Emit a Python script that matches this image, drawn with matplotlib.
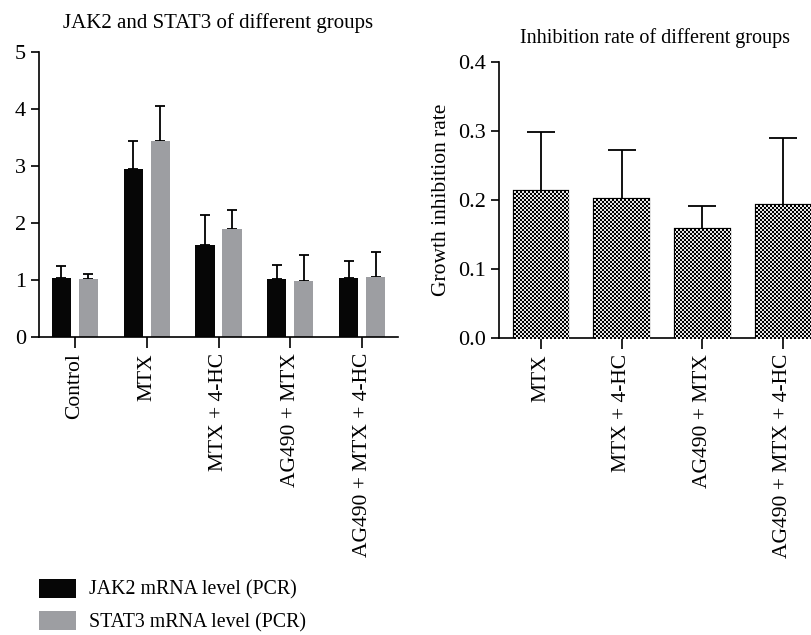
import numpy as np
import matplotlib
matplotlib.use('Agg')
from matplotlib import pyplot as plt
from matplotlib.patches import Patch

plt.rcParams['font.family'] = ['Liberation Serif', 'DejaVu Serif']

# left panel data
groups_left = ['Control', 'MTX', 'MTX + 4-HC', 'AG490 + MTX', 'AG490 + MTX + 4-HC']
jak2 = [1.03, 2.95, 1.61, 1.02, 1.04]
jak2_top = [1.25, 3.43, 2.14, 1.27, 1.34]
stat3 = [1.02, 3.43, 1.89, 0.99, 1.06]
stat3_top = [1.11, 4.06, 2.23, 1.43, 1.50]

# right panel data
groups_right = ['MTX', 'MTX + 4-HC', 'AG490 + MTX', 'AG490 + MTX + 4-HC']
inhib = [0.213, 0.201, 0.158, 0.193]
inhib_top = [0.299, 0.272, 0.192, 0.290]

W, H = 812, 635
fig = plt.figure(figsize=(W / 100, H / 100), dpi=100)

ax1 = fig.add_axes([39 / W, (H - 337) / H, (398 - 39) / W, (337 - 52) / H])
ax2 = fig.add_axes([499 / W, (H - 338) / H, (812 - 499) / W, (338 - 62) / H])

x = np.arange(len(groups_left))
off = 0.188
bw = 0.265
err_j = np.array(jak2_top) - np.array(jak2)
err_s = np.array(stat3_top) - np.array(stat3)
ax1.bar(x - off, jak2, bw, color='#060606', zorder=2)
ax1.bar(x + off, stat3, bw, color='#9d9ea2', zorder=2)
ax1.errorbar(x - off, jak2, yerr=[np.zeros(len(x)), err_j], fmt='none',
             ecolor='black', elinewidth=1.3, capsize=3.6, capthick=1.3, zorder=1)
ax1.errorbar(x + off, stat3, yerr=[np.zeros(len(x)), err_s], fmt='none',
             ecolor='black', elinewidth=1.3, capsize=3.6, capthick=1.3, zorder=1)
ax1.set_xlim(-0.5, 4.5)
ax1.set_ylim(0, 5)
ax1.set_yticks([0, 1, 2, 3, 4, 5])
ax1.set_xticks(x)
ax1.set_xticklabels(groups_left, rotation=90)
ax1.set_title('JAK2 and STAT3 of different groups', fontsize=15, pad=17)

xr = np.arange(len(groups_right))
err_r = np.array(inhib_top) - np.array(inhib)
bars = ax2.bar(xr, inhib, 0.68, color='white', edgecolor='black', linewidth=1.6, zorder=2)
ax2.errorbar(xr, inhib, yerr=[np.zeros(len(xr)), err_r], fmt='none',
             ecolor='black', elinewidth=1.3, capsize=10, capthick=1.3, zorder=1)
ax2.set_xlim(-0.52, 3.36)
ax2.set_ylim(0, 0.4)
ax2.set_yticks([0.0, 0.1, 0.2, 0.3, 0.4])
ax2.set_yticklabels(['0.0', '0.1', '0.2', '0.3', '0.4'])
ax2.set_xticks(xr)
ax2.set_xticklabels(groups_right, rotation=90)
ax2.set_ylabel('Growth inhibition rate', fontsize=15.5, labelpad=5)
ax2.set_title('Inhibition rate of different groups', fontsize=14.5, pad=14)

# checkerboard fill for the right bars
yy, xx = np.mgrid[0:H, 0:W]
chk = ((xx // 2 + yy // 2) % 2).astype(float)
img = np.where(chk[..., None] > 0, [0.0, 0.0, 0.0], [0.9, 0.9, 0.9])
for b in bars:
    fi = fig.figimage(img, xo=0, yo=0, origin='lower', zorder=1.5)
    fi.set_clip_path(b)

for ax in (ax1, ax2):
    ax.spines['top'].set_visible(False)
    ax.spines['right'].set_visible(False)
    ax.spines['left'].set_linewidth(1.2)
    ax.spines['bottom'].set_linewidth(1.2)
    ax.tick_params(axis='y', length=6, width=1.2, labelsize=16)
    ax.tick_params(axis='x', length=8, width=1.2, labelsize=15.5)

handles = [Patch(facecolor='#060606', edgecolor='none'),
           Patch(facecolor='#9d9ea2', edgecolor='none')]
fig.legend(handles, ['JAK2 mRNA level (PCR)', 'STAT3 mRNA level (PCR)'],
           loc='lower left', bbox_to_anchor=(21 / W, -15 / H), frameon=False,
           fontsize=14.3, handlelength=1.85, handleheight=1.1, labelspacing=0.55,
           handletextpad=0.65)

fig.savefig('out.png', dpi=100)
